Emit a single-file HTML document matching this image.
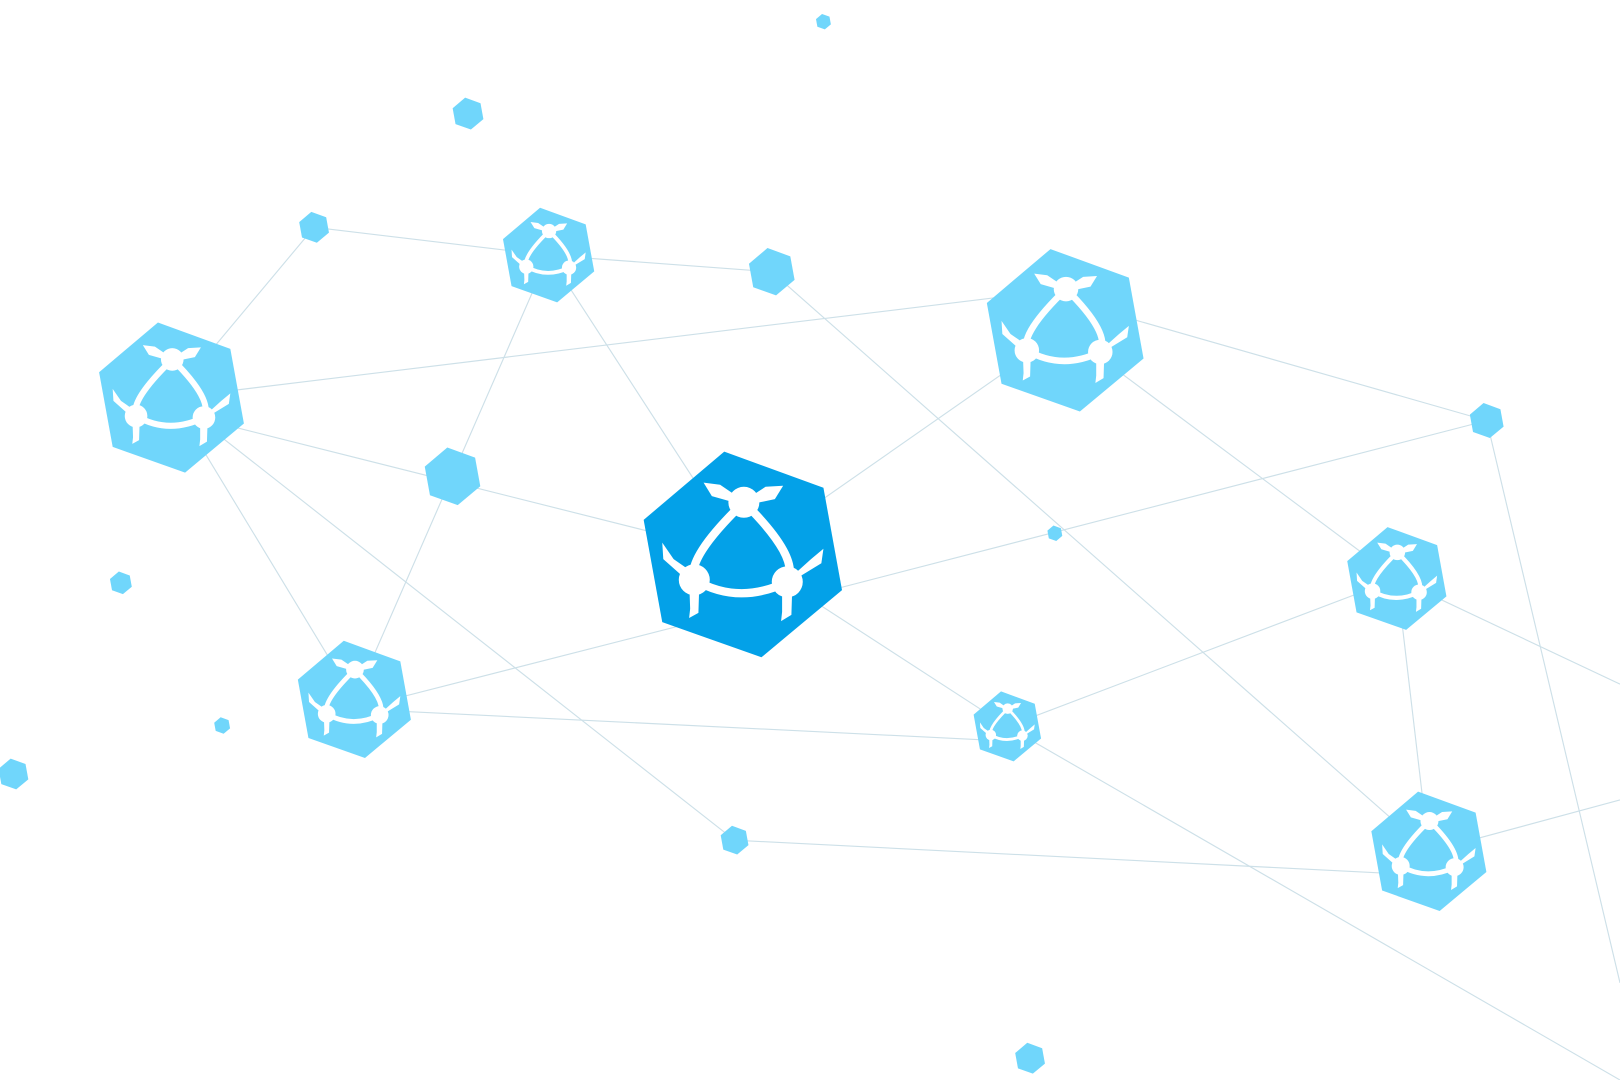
<!DOCTYPE html>
<html><head><meta charset="utf-8"><style>
html,body{margin:0;padding:0;background:#fff;width:1620px;height:1080px;overflow:hidden}
svg{display:block}
</style></head><body>
<svg width="1620" height="1080" viewBox="0 0 1568 1045" preserveAspectRatio="none" xmlns="http://www.w3.org/2000/svg">
<defs>
<polygon id="hx" points="-18,-100 78,-65 96,34 18,99 -78,65 -96,-34"/>
<g id="ic" fill="#fff">
<path d="M1,-51 Q-55,3 -47,24 M1,-51 Q56,3 43,26 M-47,24 Q-4,49 43,26" fill="none" stroke="#fff" stroke-width="8"/>
<polygon points="-3,-55 5,-47 -30,-57 -38,-70 -22,-68"/>
<polygon points="-3,-47 5,-55 22,-66 39,-67 31,-54"/>
<polygon points="-44,20 -50,28 -77,4 -78,-12 -67,4"/>
<polygon points="-52,24 -42,24 -43,56 -52,61 -51,52"/>
<polygon points="40,30 46,22 66,4 78,-6 76,8"/>
<polygon points="38,26 48,26 47,58 37,64 38,55"/>
<circle cx="1" cy="-51" r="15"/>
<circle cx="-47" cy="24" r="15"/>
<circle cx="43" cy="26" r="15"/>
</g>
</defs>
<g stroke="#cde0e8" stroke-width="1.1" fill="none">
<line x1="304" y1="220" x2="531" y2="247"/>
<line x1="531" y1="247" x2="747" y2="263"/>
<line x1="304" y1="220" x2="166" y2="385"/>
<line x1="166" y1="385" x2="1030" y2="280"/>
<line x1="166" y1="398" x2="719" y2="537"/>
<line x1="531" y1="247" x2="343" y2="677"/>
<line x1="531" y1="247" x2="719" y2="537"/>
<line x1="747" y1="263" x2="1383" y2="824"/>
<line x1="1030" y1="290" x2="1439" y2="407"/>
<line x1="1030" y1="320" x2="719" y2="537"/>
<line x1="1030" y1="320" x2="1352" y2="560"/>
<line x1="1439" y1="407" x2="719" y2="593"/>
<line x1="1439" y1="407" x2="1568" y2="951"/>
<line x1="1352" y1="560" x2="1568" y2="662"/>
<line x1="1352" y1="560" x2="1383" y2="824"/>
<line x1="1352" y1="560" x2="975" y2="703"/>
<line x1="1383" y1="824" x2="1568" y2="774"/>
<line x1="166" y1="385" x2="343" y2="677"/>
<line x1="166" y1="385" x2="711" y2="813"/>
<line x1="343" y1="686" x2="719" y2="590"/>
<line x1="343" y1="686" x2="975" y2="717"/>
<line x1="719" y1="537" x2="975" y2="703"/>
<line x1="975" y1="703" x2="1568" y2="1045"/>
<line x1="711" y1="813" x2="1383" y2="847"/>
</g>
<g fill="#70d6fb">
<use href="#hx" transform="translate(747,263) scale(.23)"/>
<use href="#hx" transform="translate(438,461) scale(.28)"/>
<use href="#hx" transform="translate(304,220) scale(.15)"/>
<use href="#hx" transform="translate(453,110) scale(.155)"/>
<use href="#hx" transform="translate(797,21) scale(.075)"/>
<use href="#hx" transform="translate(1439,407) scale(.17)"/>
<use href="#hx" transform="translate(1021,516) scale(.075)"/>
<use href="#hx" transform="translate(117,564) scale(.11)"/>
<use href="#hx" transform="translate(215,702) scale(.08)"/>
<use href="#hx" transform="translate(13,749) scale(.15)"/>
<use href="#hx" transform="translate(711,813) scale(.14)"/>
<use href="#hx" transform="translate(997,1024) scale(.15)"/>
</g>
<g transform="translate(1031,320) scale(.79)"><use href="#hx" fill="#70d6fb"/><use href="#ic"/></g>
<g transform="translate(166,385) scale(.73)"><use href="#hx" fill="#70d6fb"/><use href="#ic"/></g>
<g transform="translate(531,247) scale(.46)"><use href="#hx" fill="#70d6fb"/><use href="#ic"/></g>
<g transform="translate(343,677) scale(.57)"><use href="#hx" fill="#70d6fb"/><use href="#ic"/></g>
<g transform="translate(1352,560) scale(.5)"><use href="#hx" fill="#70d6fb"/><use href="#ic"/></g>
<g transform="translate(1383,824) scale(.58)"><use href="#hx" fill="#70d6fb"/><use href="#ic"/></g>
<g transform="translate(975,703) scale(.34)"><use href="#hx" fill="#70d6fb"/><use href="#ic"/></g>
<g transform="translate(719,537) scale(1)"><use href="#hx" fill="#03a1e8"/><use href="#ic"/></g>
</svg>
</body></html>
